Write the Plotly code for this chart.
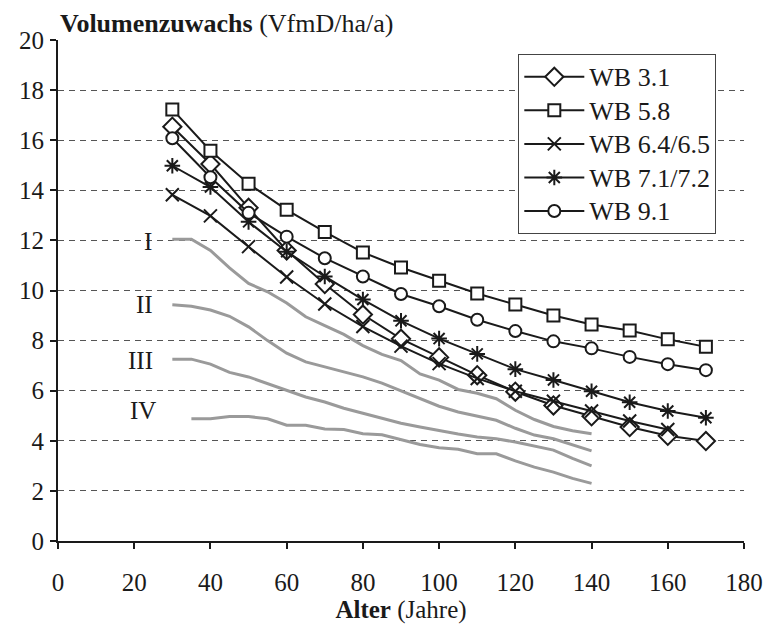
import plotly.graph_objects as go

# Alter (Jahre) for the Wuchsbezirk series
alter = [30, 40, 50, 60, 70, 80, 90, 100, 110, 120, 130, 140, 150, 160, 170]
alter_64 = alter[:-1]

wb_31 = [16.54, 15.05, 13.3, 11.6, 10.26, 9.04, 8.07, 7.33, 6.62, 5.96, 5.41, 4.98, 4.55, 4.2, 3.99]
wb_58 = [17.23, 15.58, 14.26, 13.22, 12.34, 11.52, 10.92, 10.39, 9.88, 9.44, 9.0, 8.64, 8.4, 8.05, 7.75]
wb_64 = [13.82, 12.98, 11.75, 10.54, 9.46, 8.56, 7.78, 7.08, 6.49, 5.98, 5.58, 5.19, 4.79, 4.45]
wb_71 = [14.98, 14.13, 12.74, 11.55, 10.56, 9.64, 8.79, 8.08, 7.47, 6.86, 6.43, 5.98, 5.54, 5.19, 4.92]
wb_91 = [16.08, 14.52, 13.1, 12.15, 11.29, 10.56, 9.86, 9.37, 8.83, 8.38, 7.97, 7.69, 7.35, 7.06, 6.82]

# Ertragsklassen I-IV (Ertragstafel), 5-year steps
alter_kl = list(range(30, 145, 5))
alter_kl4 = list(range(35, 145, 5))
kl_1 = [12.05, 12.05, 11.6, 10.9, 10.28, 9.95, 9.5, 8.95, 8.6, 8.25, 7.8, 7.45, 7.2,
        6.67, 6.42, 6.05, 5.9, 5.68, 5.22, 4.85, 4.57, 4.4, 4.28]
kl_2 = [9.43, 9.37, 9.22, 8.97, 8.55, 8.0, 7.5, 7.15, 6.95, 6.75, 6.55, 6.3, 6.0,
        5.7, 5.38, 5.15, 4.98, 4.82, 4.5, 4.23, 4.08, 3.85, 3.6]
kl_3 = [7.26, 7.26, 7.06, 6.73, 6.55, 6.28, 6.0, 5.75, 5.55, 5.3, 5.1, 4.9, 4.7,
        4.55, 4.4, 4.27, 4.15, 4.08, 3.95, 3.8, 3.63, 3.3, 3.0]
kl_4 = [4.88, 4.88, 4.97, 4.97, 4.88, 4.62, 4.62, 4.47, 4.45, 4.28, 4.24, 4.03,
        3.85, 3.72, 3.66, 3.48, 3.48, 3.2, 2.95, 2.75, 2.5, 2.3]

kl_labels = ["I", "II", "III", "IV"]
kl_label_pos = [(23.5, 11.96), (22.7, 9.43), (21.7, 7.2), (22.2, 5.19)]

FONT = "Liberation Serif, Times New Roman, serif"
BLACK = "#1a1a1a"
GRAY = "#9a9a9a"
FS_TICK = 25
FS_TEXT = 26

fig = go.Figure()

for xs, ys in [(alter_kl, kl_1), (alter_kl, kl_2), (alter_kl, kl_3), (alter_kl4, kl_4)]:
    fig.add_trace(go.Scatter(x=xs, y=ys, mode="lines", showlegend=False,
                             line=dict(color=GRAY, width=3), hoverinfo="skip"))

series = [
    ("WB 3.1", alter, wb_31, "diamond", 14),
    ("WB 5.8", alter, wb_58, "square", 12),
    ("WB 6.4/6.5", alter_64, wb_64, "x-thin", 13),
    ("WB 7.1/7.2", alter, wb_71, "asterisk", 13),
    ("WB 9.1", alter, wb_91, "circle", 12),
]
for name, xs, ys, sym, size in series:
    thin = sym in ("x-thin", "asterisk")
    fig.add_trace(go.Scatter(
        x=xs, y=ys, mode="lines+markers",
        # legend rows are spaced by the legend font; the label itself is a bit larger
        name=f'<span style="font-size:{FS_TEXT}px">{name}</span>',
        line=dict(color=BLACK, width=2),
        marker=dict(symbol=sym, size=size,
                    color=BLACK if thin else "white",
                    line=dict(color=BLACK, width=2)),
    ))

for lab, (lx, ly) in zip(kl_labels, kl_label_pos):
    fig.add_annotation(x=lx, y=ly, text=lab, showarrow=False,
                       font=dict(family=FONT, size=FS_TICK, color=BLACK))

fig.add_annotation(xref="paper", yref="paper", x=0, y=1, xanchor="left", yanchor="bottom",
                   yshift=0, showarrow=False,
                   text="<b>Volumenzuwachs</b> (VfmD/ha/a)",
                   font=dict(family=FONT, size=FS_TEXT, color=BLACK))

fig.update_layout(
    width=775, height=630,
    margin=dict(l=58, r=25, t=40, b=85),
    paper_bgcolor="white", plot_bgcolor="white",
    font=dict(family=FONT, size=FS_TICK, color=BLACK),
    legend=dict(x=0.671, y=0.972, xanchor="left", yanchor="top",
                bordercolor="#444", borderwidth=1, bgcolor="white",
                itemwidth=60,
                font=dict(family=FONT, size=23.5), tracegroupgap=0),
    xaxis=dict(range=[0, 180], tickvals=list(range(0, 181, 20)),
               showline=True, linecolor=BLACK, linewidth=2,
               ticks="outside", ticklen=6, tickwidth=2, tickcolor=BLACK,
               showgrid=False, zeroline=False, ticklabelstandoff=12,
               tickfont=dict(family=FONT, size=FS_TICK),
               title=dict(text="<b>Alter</b> (Jahre)", font=dict(family=FONT, size=FS_TICK),
                          standoff=4)),
    yaxis=dict(range=[0, 20], tickvals=list(range(0, 21, 2)),
               showline=True, linecolor=BLACK, linewidth=2,
               ticks="outside", ticklen=6, tickwidth=2, tickcolor=BLACK,
               tickfont=dict(family=FONT, size=FS_TICK),
               showgrid=True, gridcolor="#555", gridwidth=1, griddash="6px,5px",
               zeroline=False, ticklabelstandoff=1),
)

fig.write_html("out.html")
